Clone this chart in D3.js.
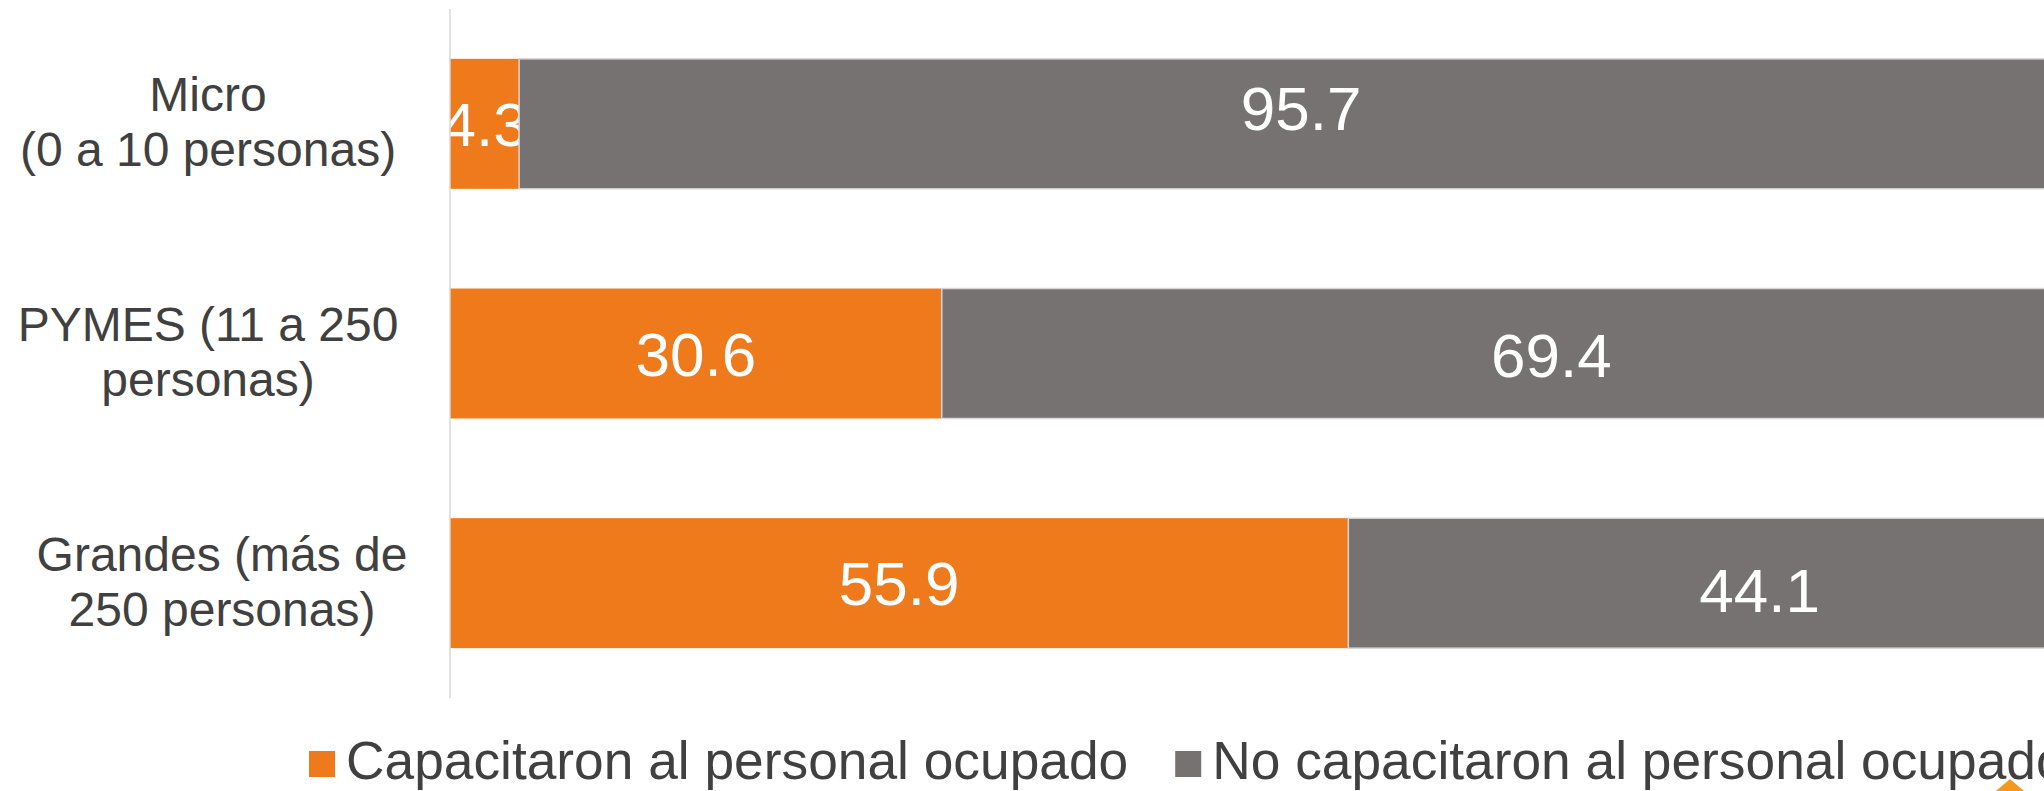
<!DOCTYPE html>
<html lang="es">
<head>
<meta charset="UTF-8">
<style>
  body { margin: 0; background: #fff; }
  svg { display: block; font-family: "Liberation Sans", Arial, sans-serif; }
</style>
<script src="https://d3js.org/d3.v7.min.js"></script>
</head>
<body>
<svg id="chart" width="2044" height="791"></svg>
<script>
// categories (top to bottom) and the two stacked series, in percent
const categories = [
  ["Micro", "(0 a 10 personas)"],
  ["PYMES (11 a 250", "personas)"],
  ["Grandes (más de", "250 personas)"]
];
const seriesNames = ["Capacitaron al personal ocupado", "No capacitaron al personal ocupado"];
const capacitaron = [4.3, 30.6, 55.9];
const noCapacitaron = [95.7, 69.4, 44.1];

const colors = ["#EF7A1B", "#767271"];

const svg = d3.select("#chart");

const x = d3.scaleLinear().domain([0, 100]).range([450, 2057]);
const y = d3.scaleBand()
  .domain(d3.range(categories.length))
  .range([9, 698])
  .paddingInner(0.434)
  .paddingOuter(0.217);

// stack the rows
const rows = categories.map((c, i) => ({ i, a: capacitaron[i], b: noCapacitaron[i] }));
const stack = d3.stack().keys(["a", "b"])(rows);

// the grey labels sit a bit off-centre in the original
const greyNudge = [[13, -16], [52, 1], [57, 7]];
// and the last category label block is shifted right a little
const catNudge = [0, 0, 14];

stack.forEach((layer, k) => {
  const g = svg.append("g");
  g.selectAll("rect")
    .data(layer)
    .join("rect")
    .attr("x", d => x(d[0]))
    .attr("y", (d, i) => y(i))
    .attr("width", d => x(d[1]) - x(d[0]))
    .attr("height", y.bandwidth())
    .attr("fill", colors[k])
    .attr("stroke", k === 1 ? "#d6d6d6" : "none")
    .attr("stroke-width", 1.5);

  g.selectAll("text")
    .data(layer)
    .join("text")
    .attr("x", (d, i) => (x(d[0]) + x(d[1])) / 2 + (k === 1 ? greyNudge[i][0] : 0))
    .attr("y", (d, i) => y(i) + y.bandwidth() / 2 + (k === 1 ? greyNudge[i][1] : 0))
    .attr("dy", "0.36em")
    .attr("text-anchor", "middle")
    .attr("fill", "#fff")
    .attr("font-size", 62)
    .text(d => d3.format(".1f")(d[1] - d[0]));
});

// vertical category axis line
svg.append("line")
  .attr("x1", x(0)).attr("x2", x(0))
  .attr("y1", 9).attr("y2", 698)
  .attr("stroke", "#d9d9d9")
  .attr("stroke-width", 1.5);

// category labels, two lines each
const lab = svg.append("g");
categories.forEach((lines, i) => {
  const cy = y(i) + y.bandwidth() / 2;
  const t = lab.append("text")
    .attr("text-anchor", "middle")
    .attr("fill", "#404040")
    .attr("font-size", 48);
  lines.forEach((s, j) => {
    t.append("tspan")
      .attr("x", 208 + catNudge[i])
      .attr("y", cy + 15 + (j - 0.5) * 55)
      .text(s);
  });
});

// legend
const leg = svg.append("g");
let lx = 309;
seriesNames.forEach((name, k) => {
  leg.append("rect")
    .attr("x", lx).attr("y", 751)
    .attr("width", 26).attr("height", 26)
    .attr("fill", colors[k]);
  const t = leg.append("text")
    .attr("x", lx + 37).attr("y", 779)
    .attr("fill", "#404040")
    .attr("font-size", 53.3)
    .text(name);
  lx += 37 + t.node().getComputedTextLength() + 47;
});

// corner of the logo peeking in at the bottom right
svg.append("path")
  .attr("d", "M1996,791 L2010,779 L2024,791 Z")
  .attr("fill", "#F39A1E");
</script>
</body>
</html>
